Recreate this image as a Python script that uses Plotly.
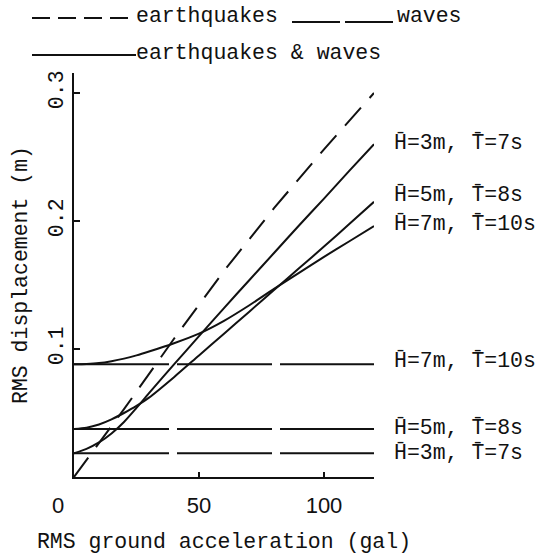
import plotly.graph_objects as go

# ---------------- data ----------------
acc_eq = [0, 20, 40, 60, 80, 100, 120]
disp_eq = [0, 0.053, 0.108, 0.161, 0.210, 0.256, 0.300]

acc_wave = [0, 120]
wave_h3 = [0.0185, 0.0185]
wave_h5 = [0.0375, 0.0375]
wave_h7 = [0.088, 0.088]

acc_comb = [0, 5, 10, 15, 20, 25, 30, 40, 50, 60, 70, 80, 90, 100, 110, 120]
comb_h3 = [0.0185, 0.022, 0.027, 0.034, 0.043, 0.054, 0.0655, 0.088, 0.110,
           0.132, 0.1535, 0.175, 0.1965, 0.2175, 0.239, 0.260]
comb_h5 = [0.0375, 0.0385, 0.041, 0.045, 0.050, 0.0555, 0.062, 0.078, 0.095,
           0.112, 0.129, 0.146, 0.163, 0.180, 0.1975, 0.215]
comb_h7 = [0.088, 0.0883, 0.089, 0.0905, 0.0925, 0.095, 0.098, 0.1045, 0.112,
           0.122, 0.134, 0.147, 0.1595, 0.172, 0.184, 0.196]

case_labels = ["H\u0304=3m, T\u0304=7s", "H\u0304=5m, T\u0304=8s", "H\u0304=7m, T\u0304=10s"]

x_ticks = [50, 100]
x_ticktext = ["50", "100"]
y_ticks = [0.1, 0.2, 0.3]
y_ticktext = ["0.1", "0.2", "0.3"]

# ---------------- layout geometry ----------------
W, H = 541, 554
L, R, T, B = 74, 374, 73, 477
XMAX = 120
YMAX = (B - T) / 1280.0

MONO = "Liberation Mono"
SANS = "Liberation Sans"
FS = 21.5
BLACK = "#111111"


def px_x(p):
    return (p - L) / (R - L)


def px_y(p):
    return (B - p) / (B - T)


fig = go.Figure()

line_eq = dict(color=BLACK, width=2, dash="24px,13px")
line_wave = dict(color=BLACK, width=2, dash="95px,8px")
line_comb = dict(color=BLACK, width=2, shape="spline", smoothing=0.8)

fig.add_trace(go.Scatter(x=acc_eq, y=disp_eq, mode="lines", line=line_eq,
                         name="earthquakes", showlegend=False))
for w in (wave_h3, wave_h5, wave_h7):
    fig.add_trace(go.Scatter(x=acc_wave, y=w, mode="lines", line=line_wave,
                             name="waves", showlegend=False))
for c in (comb_h3, comb_h5, comb_h7):
    fig.add_trace(go.Scatter(x=acc_comb, y=c, mode="lines", line=line_comb,
                             name="earthquakes & waves", showlegend=False))

annotations = []
# right-hand labels
label_y_comb = [comb_h3[-1] + 0.001, comb_h5[-1] + 0.005, comb_h7[-1] + 0.002]
label_y_wave = [wave_h3[-1] + 0.0005, wave_h5[-1] + 0.0005, wave_h7[-1] + 0.003]
for txt, yv in list(zip(case_labels, label_y_comb)) + list(zip(case_labels, label_y_wave)):
    annotations.append(dict(x=px_x(393), xref="paper", y=yv, yref="y", text=txt,
                            showarrow=False, xanchor="left", yanchor="middle",
                            font=dict(family=MONO, size=FS, color=BLACK), borderpad=0))

# origin label
annotations.append(dict(x=px_x(58), xref="paper", y=px_y(505), yref="paper", text="0",
                        showarrow=False, xanchor="center", yanchor="middle",
                        font=dict(family=SANS, size=22, color=BLACK)))

# legend texts
annotations.append(dict(x=px_x(135), xref="paper", y=px_y(16), yref="paper", text="earthquakes",
                        showarrow=False, xanchor="left", yanchor="middle",
                        font=dict(family=MONO, size=FS, color=BLACK), borderpad=0))
annotations.append(dict(x=px_x(396), xref="paper", y=px_y(16), yref="paper", text="waves",
                        showarrow=False, xanchor="left", yanchor="middle",
                        font=dict(family=MONO, size=FS, color=BLACK), borderpad=0))
annotations.append(dict(x=px_x(135), xref="paper", y=px_y(53), yref="paper", text="earthquakes & waves",
                        showarrow=False, xanchor="left", yanchor="middle",
                        font=dict(family=MONO, size=FS, color=BLACK), borderpad=0))

shapes = [
    dict(type="line", xref="paper", yref="paper", x0=px_x(32), x1=px_x(136), y0=px_y(18), y1=px_y(18),
         line=dict(color=BLACK, width=2, dash="18px,8px")),
    dict(type="line", xref="paper", yref="paper", x0=px_x(292), x1=px_x(396), y0=px_y(22), y1=px_y(22),
         line=dict(color=BLACK, width=2, dash="48px,5px")),
    dict(type="line", xref="paper", yref="paper", x0=px_x(32), x1=px_x(136), y0=px_y(55), y1=px_y(55),
         line=dict(color=BLACK, width=2)),
]

fig.update_layout(
    width=W, height=H,
    margin=dict(l=L, r=W - R, t=T, b=H - B, pad=0, autoexpand=False),
    plot_bgcolor="white", paper_bgcolor="white",
    showlegend=False,
    annotations=annotations,
    shapes=shapes,
    xaxis=dict(range=[0, XMAX], showline=True, linecolor=BLACK, linewidth=2,
               automargin=False,
               ticks="inside", ticklen=5, tickwidth=2, tickcolor=BLACK,
               tickvals=x_ticks, ticktext=x_ticktext,
               tickfont=dict(family=SANS, size=22, color=BLACK),
               ticklabelstandoff=8,
               showgrid=False, zeroline=False,
               title=dict(text="RMS ground acceleration (gal)",
                          font=dict(family=MONO, size=FS, color=BLACK), standoff=20)),
    yaxis=dict(range=[0, YMAX], showline=True, linecolor=BLACK, linewidth=2,
               automargin=False,
               ticks="inside", ticklen=6, tickwidth=2, tickcolor=BLACK,
               tickvals=y_ticks, ticktext=y_ticktext, tickangle=-90,
               tickfont=dict(family=MONO, size=FS, color=BLACK),
               ticklabelstandoff=0,
               showgrid=False, zeroline=False,
               title=dict(text="RMS displacement (m)",
                          font=dict(family=MONO, size=FS, color=BLACK), standoff=12)),
)

fig.write_html("out.html")
